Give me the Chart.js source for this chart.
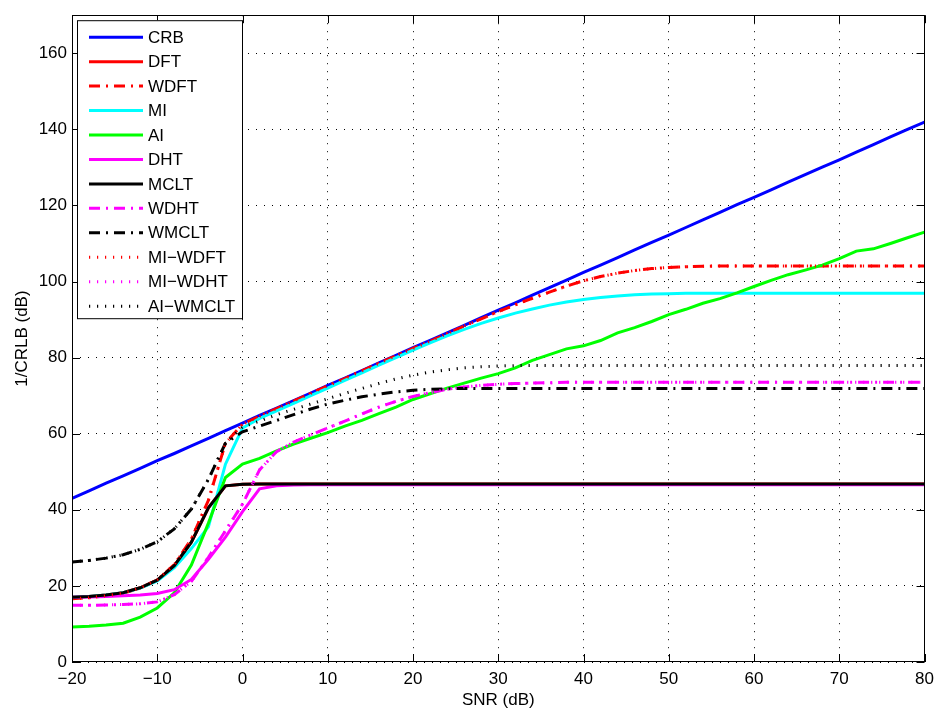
<!DOCTYPE html>
<html>
<head>
<meta charset="utf-8">
<title>1/CRLB vs SNR</title>
<script src="https://cdn.jsdelivr.net/npm/chart.js@4.4.1/dist/chart.umd.min.js"></script>
<style>
  html, body { margin: 0; padding: 0; background: #fff; }
  canvas { display: block; }
</style>
</head>
<body>
<canvas id="myChart" width="941" height="711"></canvas>
<script>
// SNR grid (dB)
var snr = [-20, -18, -16, -14, -12, -10, -8, -6, -4, -2, 0, 2, 4, 6, 8, 10, 12, 14, 16, 18, 20,
  22, 24, 26, 28, 30, 32, 34, 36, 38, 40, 42, 44, 46, 48, 50, 52, 54, 56, 58, 60,
  62, 64, 66, 68, 70, 72, 74, 76, 78, 80];

var crb = [43.0, 45.0, 47.0, 48.9, 50.9, 52.9, 54.8, 56.8, 58.8, 60.8, 62.8, 64.8, 66.7, 68.7, 70.7, 72.7, 74.6, 76.6, 78.6, 80.6, 82.6,
  84.5, 86.5, 88.5, 90.5, 92.5, 94.4, 96.4, 98.4, 100.4, 102.4, 104.3, 106.3, 108.3, 110.3, 112.2, 114.2, 116.2, 118.2, 120.2, 122.1,
  124.1, 126.1, 128.1, 130.1, 132.0, 134.0, 136.0, 138.0, 140.0, 141.9];

var dft = [17.0, 17.2, 17.6, 18.2, 19.5, 21.5, 25.3, 31.5, 40.5, 46.3, 46.7, 46.8, 46.8, 46.8, 46.8, 46.8, 46.8, 46.8, 46.8, 46.8, 46.8,
  46.8, 46.8, 46.8, 46.8, 46.8, 46.8, 46.8, 46.8, 46.8, 46.8, 46.8, 46.8, 46.8, 46.8, 46.8, 46.8, 46.8, 46.8, 46.8, 46.8,
  46.8, 46.8, 46.8, 46.8, 46.8, 46.8, 46.8, 46.8, 46.8, 46.8];

var wdft = [16.6, 16.9, 17.4, 18.1, 19.4, 21.6, 25.6, 32.3, 42.5, 57.5, 62.5, 64.6, 66.6, 68.6, 70.6, 72.6, 74.5, 76.5, 78.5, 80.5, 82.4,
  84.3, 86.3, 88.3, 90.2, 92.1, 93.9, 95.6, 97.2, 98.8, 100.2, 101.3, 102.2, 102.9, 103.4, 103.7, 103.9, 104.0, 104.1, 104.1, 104.1,
  104.1, 104.1, 104.1, 104.1, 104.1, 104.1, 104.1, 104.1, 104.1, 104.1];

var mi = [17.0, 17.2, 17.6, 18.2, 19.4, 21.3, 24.8, 29.8, 35.5, 52.0, 61.5, 64.0, 66.0, 68.0, 70.0, 72.0, 74.0, 76.0, 78.0, 80.0, 82.0,
  83.9, 85.7, 87.4, 89.0, 90.4, 91.7, 92.8, 93.8, 94.6, 95.3, 95.8, 96.2, 96.5, 96.7, 96.8, 96.9, 96.9, 96.9, 96.9, 96.9,
  96.9, 96.9, 96.9, 96.9, 96.9, 96.9, 96.9, 96.9, 96.9, 96.9];

var ai = [9.2, 9.4, 9.7, 10.2, 11.8, 14.2, 18.2, 25.5, 36.5, 48.5, 52.0, 53.5, 55.5, 57.3, 58.8, 60.3, 62.0, 63.5, 65.3, 67.0, 69.0,
  70.5, 72.0, 73.3, 74.6, 75.8, 77.3, 79.3, 80.8, 82.3, 83.1, 84.5, 86.5, 87.9, 89.5, 91.3, 92.7, 94.3, 95.5, 97.0, 98.7,
  100.3, 101.8, 103.0, 104.3, 106.0, 108.0, 108.6, 110.0, 111.5, 113.0];

var dht = [17.0, 17.1, 17.2, 17.4, 17.6, 18.0, 19.0, 21.7, 27.0, 32.8, 39.5, 45.5, 46.3, 46.5, 46.6, 46.6, 46.6, 46.6, 46.6, 46.6, 46.6,
  46.6, 46.6, 46.6, 46.6, 46.6, 46.6, 46.6, 46.6, 46.6, 46.6, 46.6, 46.6, 46.6, 46.6, 46.6, 46.6, 46.6, 46.6, 46.6, 46.6,
  46.6, 46.6, 46.6, 46.6, 46.6, 46.6, 46.6, 46.6, 46.6, 46.6];

var mclt = [17.0, 17.2, 17.6, 18.2, 19.5, 21.5, 25.3, 31.5, 40.5, 46.3, 46.7, 46.8, 46.8, 46.8, 46.8, 46.8, 46.8, 46.8, 46.8, 46.8, 46.8,
  46.8, 46.8, 46.8, 46.8, 46.8, 46.8, 46.8, 46.8, 46.8, 46.8, 46.8, 46.8, 46.8, 46.8, 46.8, 46.8, 46.8, 46.8, 46.8, 46.8,
  46.8, 46.8, 46.8, 46.8, 46.8, 46.8, 46.8, 46.8, 46.8, 46.8];

var wdht = [14.9, 14.9, 15.0, 15.1, 15.3, 15.8, 17.7, 21.2, 27.5, 34.5, 41.5, 50.5, 55.3, 57.8, 59.7, 61.5, 63.3, 65.2, 67.0, 68.5, 69.8,
  70.8, 71.7, 72.3, 72.7, 73.0, 73.2, 73.3, 73.4, 73.5, 73.5, 73.5, 73.5, 73.5, 73.5, 73.5, 73.5, 73.5, 73.5, 73.5, 73.5,
  73.5, 73.5, 73.5, 73.5, 73.5, 73.5, 73.5, 73.5, 73.5, 73.5];

var wmclt = [26.3, 26.7, 27.3, 28.2, 29.6, 31.6, 35.0, 40.2, 48.0, 57.5, 60.5, 62.0, 63.5, 65.0, 66.5, 67.8, 68.8, 69.7, 70.4, 71.0, 71.4,
  71.7, 71.8, 71.9, 71.9, 71.9, 71.9, 71.9, 71.9, 71.9, 71.9, 71.9, 71.9, 71.9, 71.9, 71.9, 71.9, 71.9, 71.9, 71.9, 71.9,
  71.9, 71.9, 71.9, 71.9, 71.9, 71.9, 71.9, 71.9, 71.9, 71.9];

var miWdft = [16.6, 16.9, 17.4, 18.1, 19.4, 21.6, 25.6, 32.3, 42.5, 57.5, 62.5, 64.6, 66.6, 68.6, 70.6, 72.6, 74.5, 76.5, 78.5, 80.5, 82.4,
  84.3, 86.3, 88.3, 90.2, 92.1, 93.9, 95.6, 97.2, 98.8, 100.2, 101.3, 102.2, 102.9, 103.4, 103.7, 103.9, 104.0, 104.1, 104.1, 104.1,
  104.1, 104.1, 104.1, 104.1, 104.1, 104.1, 104.1, 104.1, 104.1, 104.1];

var miWdht = [14.9, 14.9, 15.0, 15.1, 15.3, 15.8, 17.7, 21.2, 27.5, 34.5, 41.5, 50.5, 55.3, 57.8, 59.7, 61.5, 63.3, 65.2, 67.0, 68.5, 69.8,
  70.8, 71.7, 72.3, 72.7, 73.0, 73.2, 73.3, 73.4, 73.5, 73.5, 73.5, 73.5, 73.5, 73.5, 73.5, 73.5, 73.5, 73.5, 73.5, 73.5,
  73.5, 73.5, 73.5, 73.5, 73.5, 73.5, 73.5, 73.5, 73.5, 73.5];

var aiWmclt = [26.3, 26.7, 27.3, 28.2, 29.6, 31.6, 35.0, 40.2, 48.0, 57.5, 61.8, 63.3, 65.0, 66.4, 67.8, 69.2, 70.6, 71.9, 73.2, 74.4, 75.4,
  76.2, 76.8, 77.3, 77.6, 77.8, 77.9, 77.9, 77.9, 77.9, 77.9, 77.9, 77.9, 77.9, 77.9, 77.9, 77.9, 77.9, 77.9, 77.9, 77.9,
  77.9, 77.9, 77.9, 77.9, 77.9, 77.9, 77.9, 77.9, 77.9, 77.9];

var FONT = '"Liberation Sans", Arial, Helvetica, sans-serif';
var FSIZE = 17;
var SOLID = [];
var DASHDOT = [11, 6, 2, 6];
var DOTTED = [1.2, 6.8];

function makeSeries(label, values, color, dash, width) {
  return {
    label: label,
    data: snr.map(function (x, i) { return { x: x, y: values[i] }; }),
    borderColor: color,
    backgroundColor: color,
    borderDash: dash,
    borderWidth: width,
    pointRadius: 0,
    tension: 0,
    fill: false
  };
}

var datasets = [
  makeSeries('CRB', crb, '#0000ff', SOLID, 3),
  makeSeries('DFT', dft, '#ff0000', SOLID, 3),
  makeSeries('WDFT', wdft, '#ff0000', DASHDOT, 3),
  makeSeries('MI', mi, '#00ffff', SOLID, 3),
  makeSeries('AI', ai, '#00ff00', SOLID, 3),
  makeSeries('DHT', dht, '#ff00ff', SOLID, 3),
  makeSeries('MCLT', mclt, '#000000', SOLID, 3),
  makeSeries('WDHT', wdht, '#ff00ff', DASHDOT, 3),
  makeSeries('WMCLT', wmclt, '#000000', DASHDOT, 3),
  makeSeries('MI\u2212WDFT', miWdft, '#ff0000', DOTTED, 3),
  makeSeries('MI\u2212WDHT', miWdht, '#ff00ff', DOTTED, 3),
  makeSeries('AI\u2212WMCLT', aiWmclt, '#000000', DOTTED, 3)
];
// matlab draws later lines on top
datasets.forEach(function (d, i) { d.order = datasets.length - i; });

// matlab uses a real minus sign
function minusLabel(v) {
  return v < 0 ? '\u2212' + Math.abs(v) : String(v);
}

// box around the axes + inward ticks on all four sides
var axesBox = {
  id: 'axesBox',
  afterDatasetsDraw: function (chart) {
    var ctx = chart.ctx, a = chart.chartArea;
    var xs = chart.scales.x, ys = chart.scales.y;
    var len = 8;
    ctx.save();
    ctx.strokeStyle = '#000';
    ctx.lineWidth = 1;
    ctx.setLineDash([]);
    ctx.strokeRect(Math.round(a.left) + 0.5, Math.round(a.top) + 0.5,
      Math.round(a.width) - 1, Math.round(a.height) - 1);
    ctx.beginPath();
    xs.ticks.forEach(function (t) {
      var px = Math.round(xs.getPixelForValue(t.value)) + 0.5;
      ctx.moveTo(px, a.bottom); ctx.lineTo(px, a.bottom - len);
      ctx.moveTo(px, a.top); ctx.lineTo(px, a.top + len);
    });
    ys.ticks.forEach(function (t) {
      var py = Math.round(ys.getPixelForValue(t.value)) + 0.5;
      ctx.moveTo(a.left, py); ctx.lineTo(a.left + len, py);
      ctx.moveTo(a.right, py); ctx.lineTo(a.right - len, py);
    });
    ctx.stroke();
    ctx.restore();
  }
};

// legend box in the upper left corner, like matlab's 'NorthWest'
var boxLegend = {
  id: 'boxLegend',
  afterDraw: function (chart) {
    var ctx = chart.ctx, a = chart.chartArea;
    var left = a.left + 5, top = a.top + 5;
    var w = 165, rowH = 24.45;
    var h = 298;
    ctx.save();
    ctx.fillStyle = '#fff';
    ctx.fillRect(left, top, w, h);
    ctx.strokeStyle = '#000';
    ctx.lineWidth = 1;
    ctx.setLineDash([]);
    ctx.strokeRect(left + 0.5, top + 0.5, w, h);
    ctx.font = FSIZE + 'px ' + FONT;
    ctx.textBaseline = 'middle';
    chart.data.datasets.forEach(function (d, i) {
      var y = top + 17 + i * rowH;
      ctx.beginPath();
      ctx.strokeStyle = d.borderColor;
      ctx.lineWidth = d.borderWidth;
      ctx.setLineDash(d.borderDash);
      ctx.moveTo(left + 12, y);
      ctx.lineTo(left + 66, y);
      ctx.stroke();
      ctx.setLineDash([]);
      ctx.fillStyle = '#000';
      ctx.fillText(d.label, left + 71, y + 1);
    });
    ctx.restore();
  }
};

var ctx = document.getElementById('myChart');
var myChart = new Chart(ctx, {
  type: 'line',
  data: { datasets: datasets },
  plugins: [axesBox, boxLegend],
  options: {
    responsive: false,
    animation: false,
    devicePixelRatio: 1,
    layout: { padding: { top: 10, right: 13, left: 0, bottom: 0 } },
    plugins: {
      legend: { display: false },
      tooltip: { enabled: false }
    },
    scales: {
      x: {
        type: 'linear',
        min: -20,
        max: 80,
        ticks: { stepSize: 10, color: '#000', font: { family: FONT, size: FSIZE }, padding: 7, maxRotation: 0, callback: minusLabel },
        grid: { color: '#000', lineWidth: 1, drawTicks: false },
        border: { display: false, dash: [1, 7] },
        title: { display: true, text: 'SNR (dB)', color: '#000', font: { family: FONT, size: FSIZE }, padding: { top: 0, bottom: 0 } },
        afterFit: function (s) { s.height = 49; }
      },
      y: {
        type: 'linear',
        min: 0,
        max: 170,
        ticks: { stepSize: 20, includeBounds: false, color: '#000', font: { family: FONT, size: FSIZE }, padding: 5, callback: minusLabel },
        grid: { color: '#000', lineWidth: 1, drawTicks: false },
        border: { display: false, dash: [1, 7] },
        title: { display: true, text: '1/CRLB (dB)', color: '#000', font: { family: FONT, size: FSIZE }, padding: { top: 12, bottom: 0 } },
        afterFit: function (s) { s.width = 72; }
      }
    }
  }
});
</script>
</body>
</html>
